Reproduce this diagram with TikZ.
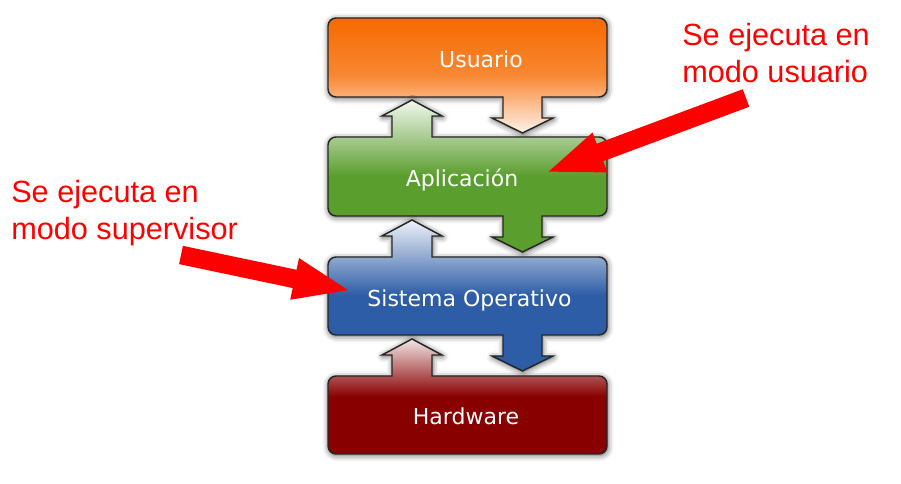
\documentclass[tikz,border=0pt]{standalone}
\usepackage{fontspec}
\setmainfont{DejaVu Sans}
\newfontfamily\notafont{Liberation Sans}
\usepackage{tikz}
\usetikzlibrary{arrows.meta,shadows.blur}

\definecolor{naranja}{HTML}{F66A00}
\definecolor{verde}{HTML}{5A9E2E}
\definecolor{azul}{HTML}{2D5DA6}
\definecolor{granate}{HTML}{880000}
\definecolor{rojonota}{HTML}{FF0000}

\tikzset{
  capa/.style={draw=black!85, line width=1.1pt,
    blur shadow={shadow xshift=0.5pt, shadow yshift=-1pt, shadow blur radius=4.5pt, shadow opacity=65}},
  etiqueta/.style={text=white, anchor=base, inner sep=0pt, font=\fontsize{16.5}{20}\selectfont},
  nota/.style={text=rojonota, anchor=north west, inner sep=0pt, align=left, font=\notafont\fontsize{23}{27.75}\selectfont},
  flecharoja/.style={draw=rojonota, line width=14pt, -{Triangle[length=44pt, width=28pt, fill=rojonota]}}
}

\begin{document}
\begin{tikzpicture}[x=0.75pt, y=-0.75pt]
  \useasboundingbox (0,0) rectangle (901,484);

  % capas
  \draw[capa, top color=naranja, bottom color=naranja!8!white, middle color=naranja!80!white]
    (328,57) [rounded corners=6pt] -- (328,18) -- (607,18) -- (607,97) -- (560,97)
    [sharp corners] -- (542,97) -- (542,118) -- (553,118) -- (522.5,133) -- (492,118) -- (503,118) -- (503,97) -- (480,97)
    [rounded corners=6pt] -- (328,97) -- cycle;
  \draw[capa, top color=verde!8!white, bottom color=verde, middle color=verde]
    (328,176) [rounded corners=6pt] -- (328,137) -- (375,137)
    [sharp corners] -- (392,137) -- (392,116) -- (382,116) -- (412,100) -- (442,116) -- (432,116) -- (432,137) -- (450,137)
    [rounded corners=6pt] -- (607,137) -- (607,216) -- (560,216)
    [sharp corners] -- (542,216) -- (542,237) -- (553,237) -- (522.5,252) -- (492,237) -- (503,237) -- (503,216) -- (480,216)
    [rounded corners=6pt] -- (328,216) -- cycle;
  \draw[capa, top color=azul!8!white, bottom color=azul, middle color=azul]
    (328,296) [rounded corners=6pt] -- (328,257) -- (375,257)
    [sharp corners] -- (392,257) -- (392,236) -- (382,236) -- (412,220) -- (442,236) -- (432,236) -- (432,257) -- (450,257)
    [rounded corners=6pt] -- (607,257) -- (607,335) -- (560,335)
    [sharp corners] -- (542,335) -- (542,356) -- (553,356) -- (522.5,371) -- (492,356) -- (503,356) -- (503,335) -- (480,335)
    [rounded corners=6pt] -- (328,335) -- cycle;
  \draw[capa, top color=granate!10!white, bottom color=granate, middle color=granate]
    (328,415) [rounded corners=6pt] -- (328,376) -- (375,376)
    [sharp corners] -- (392,376) -- (392,355) -- (382,355) -- (412,339) -- (442,355) -- (432,355) -- (432,376) -- (450,376)
    [rounded corners=6pt] -- (607,376) -- (607,454) -- (328,454) -- cycle;

  \node[etiqueta] (usuario) at (481,68) {Usuario};
  \node[etiqueta] (aplicacion) at (462,187) {Aplicación};
  \node[etiqueta] (sistema) at (469.5,307) {Sistema Operativo};
  \node[etiqueta] (hardware) at (466,425) {Hardware};

  % notas
  \node[nota] (usrnota) at (682,23) {Se ejecuta en\\modo usuario};
  \node[nota] (supnota) at (11,180) {Se ejecuta en\\modo supervisor};
  \coordinate (usrcola) at (746,98);
  \coordinate (usrpunta) at (545,173);
  \coordinate (supcola) at (181,255);
  \coordinate (suppunta) at (352,291);
  \draw[flecharoja] (usrcola) -- (usrpunta);
  \draw[flecharoja] (supcola) -- (suppunta);
\end{tikzpicture}
\end{document}
